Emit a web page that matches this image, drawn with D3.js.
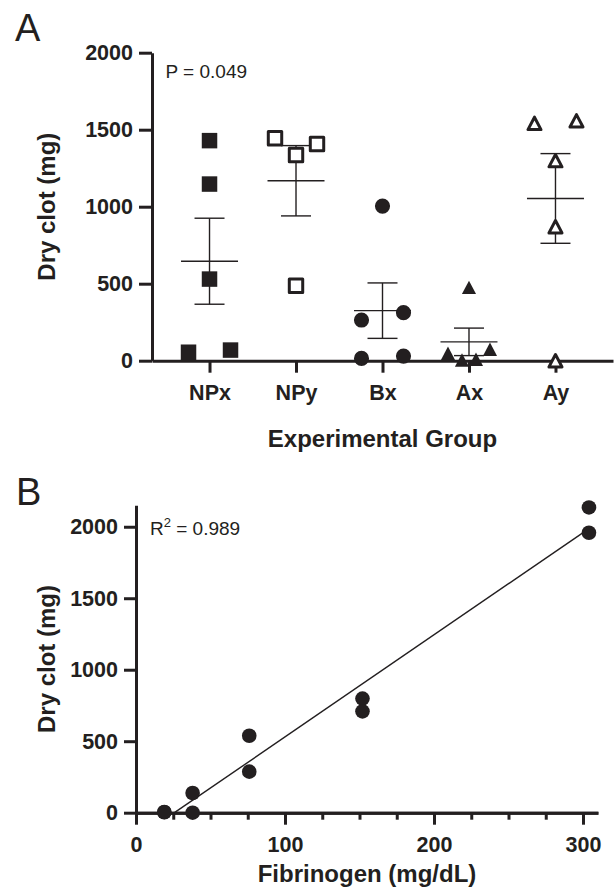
<!DOCTYPE html>
<meta charset="utf-8">
<script src="https://d3js.org/d3.v7.min.js"></script>
<style>
  body { margin: 0; background: #fff; }
  text { font-family: "Liberation Sans", Arial, sans-serif; fill: #231f20; }
</style>
<div id="my_dataviz"></div>
<script>

// ---- data, panel A : dry clot (mg) per experimental group
var groups = ["NPx", "NPy", "Bx", "Ax", "Ay"];
var clotNPx = [1429, 1147, 530, 55, 69];
var clotNPy = [1444, 1336, 1407, 487];
var clotBx  = [1004, 264, 312, 15, 30];
var clotAx  = [476, 48, 5, 9, 74];
var clotAy  = [1541, 1558, 1299, 870, 0];
var yTicksA = [0, 500, 1000, 1500, 2000];

// ---- data, panel B : dry clot vs fibrinogen
var fibrinogen = [19, 19, 38, 38, 76, 76, 152, 152, 304, 304];
var dryClot    = [5, 3, 138, 0, 538, 287, 798, 709, 2135, 1958];
var xTicksB = [0, 100, 200, 300];
var yTicksB = [0, 500, 1000, 1500, 2000];

var ink = "#231f20";

var svg = d3.select("#my_dataviz")
  .append("svg")
    .attr("width", 614)
    .attr("height", 893);

function styleAxis(g, tickW) {
  g.attr("font-size", 21.5)
   .attr("font-weight", "bold")
   .attr("font-family", "'Liberation Sans', Arial, sans-serif")
   .attr("color", ink);
  g.select(".domain").attr("stroke-width", 3);
  g.selectAll(".tick line").attr("stroke-width", tickW || 3);
}

// custom isosceles triangle centred on its box
var triangle = {
  draw: function(ctx, size) {
    var w = Math.sqrt(size), h = w * 0.95;
    ctx.moveTo(0, -h / 2);
    ctx.lineTo(w / 2, h / 2);
    ctx.lineTo(-w / 2, h / 2);
    ctx.closePath();
  }
};

// marker style per group
var markers = {
  NPx: {type: d3.symbolSquare, size: 240, open: false},
  NPy: {type: d3.symbolSquare, size: 180, open: true},
  Bx:  {type: d3.symbolCircle, size: 180, open: false},
  Ax:  {type: triangle, size: 200, open: false},
  Ay:  {type: triangle, size: 170, open: true}
};

// ================= PANEL A =================
var yA = d3.scaleLinear().domain([0, 2000]).range([360.7, 52.7]);
var xA = d3.scalePoint().domain(groups).range([152, 613]).padding(0.665);

var seriesA = {NPx: clotNPx, NPy: clotNPy, Bx: clotBx, Ax: clotAx, Ay: clotAy};

svg.append("g")
  .attr("transform", "translate(152,0)")
  .call(d3.axisLeft(yA).tickValues(yTicksA).tickFormat(d3.format("d"))
    .tickSize(13).tickPadding(6).tickSizeOuter(0))
  .call(styleAxis);

svg.append("g")
  .attr("transform", "translate(0,360.7)")
  .call(d3.axisBottom(xA).tickSize(12).tickPadding(12).tickSizeOuter(0))
  .call(styleAxis);

// spread points whose values sit close together (pixel distance) across the column
function spread(values) {
  var order = d3.range(values.length).sort(function(a, b) { return values[a] - values[b]; });
  var clusters = [], cur = [order[0]];
  for (var k = 1; k < order.length; k++) {
    if (yA(values[order[k - 1]]) - yA(values[order[k]]) < 16) cur.push(order[k]);
    else { clusters.push(cur); cur = [order[k]]; }
  }
  clusters.push(cur);
  var off = values.map(function() { return 0; });
  clusters.forEach(function(c) {
    if (c.length < 2) return;
    c.sort(function(a, b) { return a - b; });
    c.forEach(function(idx, j) { off[idx] = -21 + j * 42 / (c.length - 1); });
  });
  return off;
}

groups.forEach(function(gname) {
  var vals = seriesA[gname];
  var cx = xA(gname);
  var mean = d3.mean(vals);
  var sem = d3.deviation(vals) / Math.sqrt(vals.length);
  var eb = svg.append("g").attr("stroke", ink).attr("stroke-width", 1.4);
  eb.append("line").attr("x1", cx - 28.5).attr("x2", cx + 28.5).attr("y1", yA(mean)).attr("y2", yA(mean));
  eb.append("line").attr("x1", cx).attr("x2", cx).attr("y1", yA(mean + sem)).attr("y2", yA(mean - sem));
  eb.append("line").attr("x1", cx - 15).attr("x2", cx + 15).attr("y1", yA(mean + sem)).attr("y2", yA(mean + sem));
  eb.append("line").attr("x1", cx - 15).attr("x2", cx + 15).attr("y1", yA(mean - sem)).attr("y2", yA(mean - sem));

  var m = markers[gname];
  var off = spread(vals);
  svg.selectAll(".pt" + gname)
    .data(vals)
    .enter()
    .append("path")
      .attr("class", "pt" + gname)
      .attr("d", d3.symbol().type(m.type).size(m.size))
      .attr("transform", function(d, i) { return "translate(" + (cx + off[i]) + "," + yA(d) + ")"; })
      .attr("fill", m.open ? "#fff" : ink)
      .attr("stroke", m.open ? ink : "none")
      .attr("stroke-width", 3)
      .attr("stroke-linejoin", "round");
});

svg.append("text").attr("x", 165.5).attr("y", 78).attr("font-size", 19).text("P = 0.049");
svg.append("text").attr("x", 15).attr("y", 41).attr("font-size", 38).text("A");

svg.append("text")
  .attr("transform", "translate(55,206.7)rotate(-90)")
  .attr("text-anchor", "middle")
  .attr("font-size", 24).attr("font-weight", "bold")
  .text("Dry clot (mg)");

svg.append("text")
  .attr("x", 382.5).attr("y", 447)
  .attr("text-anchor", "middle")
  .attr("font-size", 24).attr("font-weight", "bold")
  .text("Experimental Group");

// ================= PANEL B =================
var yB = d3.scaleLinear().domain([0, 2150]).range([812.7, 505.3]);
var xB = d3.scaleLinear().domain([0, 310]).range([136, 597.9]);

svg.append("g")
  .attr("transform", "translate(136,0)")
  .call(d3.axisLeft(yB).tickValues(yTicksB).tickFormat(d3.format("d"))
    .tickSize(12).tickPadding(6).tickSizeOuter(0))
  .call(styleAxis);

var minorB = d3.range(0, 310, 25).filter(function(v) { return xTicksB.indexOf(v) < 0; });
svg.append("g")
  .attr("transform", "translate(0,812.7)")
  .call(d3.axisBottom(xB).tickValues(minorB).tickSize(7).tickFormat("").tickSizeOuter(0))
  .call(styleAxis);
svg.append("g")
  .attr("transform", "translate(0,812.7)")
  .call(d3.axisBottom(xB).tickValues(xTicksB).tickFormat(d3.format("d"))
    .tickSize(12).tickPadding(12).tickSizeOuter(0))
  .call(styleAxis);

// least squares fit line
var mx = d3.mean(fibrinogen), my = d3.mean(dryClot);
var sxy = d3.sum(fibrinogen, function(x, i) { return (x - mx) * (dryClot[i] - my); });
var sxx = d3.sum(fibrinogen, function(x) { return (x - mx) * (x - mx); });
var slope = sxy / sxx, icpt = my - slope * mx;
var xStart = -icpt / slope, xEnd = d3.max(fibrinogen);

svg.append("line")
  .attr("x1", xB(xStart)).attr("y1", yB(0))
  .attr("x2", xB(xEnd)).attr("y2", yB(icpt + slope * xEnd))
  .attr("stroke", ink).attr("stroke-width", 1.4);

svg.selectAll(".ptB")
  .data(fibrinogen)
  .enter()
  .append("circle")
    .attr("class", "ptB")
    .attr("cx", function(d) { return xB(d); })
    .attr("cy", function(d, i) { return yB(dryClot[i]); })
    .attr("r", 7.3)
    .attr("fill", ink);

var r2 = svg.append("text").attr("x", 150).attr("y", 535).attr("font-size", 19);
r2.append("tspan").text("R");
r2.append("tspan").attr("dy", -8).attr("font-size", 13).text("2");
r2.append("tspan").attr("dy", 8).text(" = 0.989");

svg.append("text").attr("x", 16).attr("y", 505).attr("font-size", 38).text("B");

svg.append("text")
  .attr("transform", "translate(55,659)rotate(-90)")
  .attr("text-anchor", "middle")
  .attr("font-size", 24).attr("font-weight", "bold")
  .text("Dry clot (mg)");

svg.append("text")
  .attr("x", 367).attr("y", 882)
  .attr("text-anchor", "middle")
  .attr("font-size", 24).attr("font-weight", "bold")
  .text("Fibrinogen (mg/dL)");

</script>
